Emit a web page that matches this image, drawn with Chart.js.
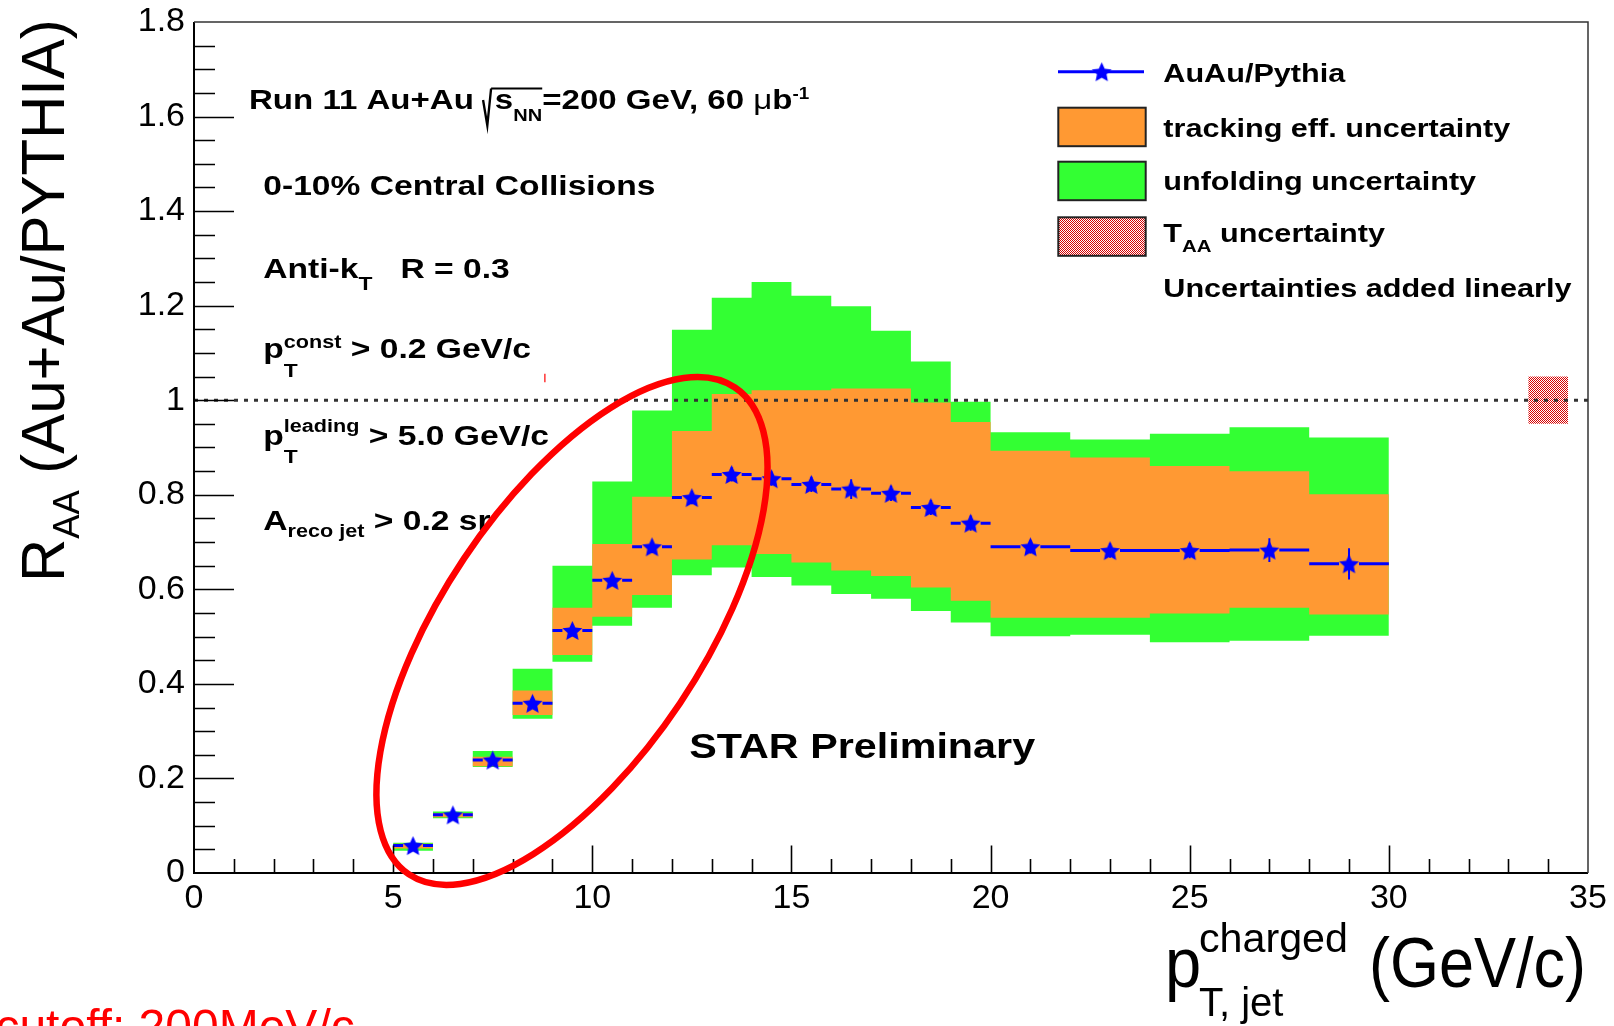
<!DOCTYPE html>
<html>
<head>
<meta charset="utf-8">
<script src="https://cdn.jsdelivr.net/npm/chart.js@4/dist/chart.umd.min.js"></script>
<style>
  html, body { margin: 0; padding: 0; background: #fff; overflow: hidden; }
  canvas { display: block; }
</style>
</head>
<body>
<canvas id="raa" width="1614" height="1026"></canvas>
<script>
// ---- data: jet R_AA, Au+Au / PYTHIA, 0-10% central ----
const binEdges  = [5, 6, 7, 8, 9, 10, 11, 12, 13, 14, 15, 16, 17, 18, 19, 20, 22, 24, 26, 28, 30];
const raa       = [0.058, 0.123, 0.239, 0.359, 0.513, 0.619, 0.690, 0.794, 0.843, 0.834, 0.822, 0.812, 0.803, 0.773, 0.740, 0.690, 0.682, 0.682, 0.683, 0.654];
const statErr   = [0.004, 0.006, 0.008, 0.010, 0.012, 0.012, 0.013, 0.014, 0.015, 0.015, 0.016, 0.021, 0.016, 0.016, 0.016, 0.014, 0.015, 0.016, 0.025, 0.033];
const trackLo   = [0.052, 0.118, 0.226, 0.334, 0.461, 0.542, 0.588, 0.663, 0.693, 0.675, 0.657, 0.640, 0.628, 0.604, 0.576, 0.540, 0.540, 0.549, 0.561, 0.547];
const trackHi   = [0.062, 0.127, 0.246, 0.386, 0.561, 0.696, 0.796, 0.935, 1.013, 1.021, 1.021, 1.025, 1.025, 0.995, 0.954, 0.893, 0.879, 0.861, 0.850, 0.801];
const unfoldLo  = [0.047, 0.116, 0.224, 0.326, 0.447, 0.523, 0.561, 0.630, 0.646, 0.626, 0.608, 0.590, 0.580, 0.554, 0.530, 0.501, 0.504, 0.488, 0.491, 0.502];
const unfoldHi  = [0.064, 0.130, 0.258, 0.432, 0.650, 0.828, 0.978, 1.149, 1.217, 1.250, 1.221, 1.199, 1.147, 1.082, 0.997, 0.932, 0.917, 0.929, 0.943, 0.921];
const taaEdges  = [33.5, 34.5];
const taaBand   = [0.95, 1.05];
const unityLine = [1, 1];
const xTickLabels = ['0', '5', '10', '15', '20', '25', '30', '35'];
const yTickLabels = ['0', '0.2', '0.4', '0.6', '0.8', '1', '1.2', '1.4', '1.6', '1.8'];

// ---- styles ----
const FONT = "'Liberation Sans', Arial, Helvetica, sans-serif";
const GREEN = '#33ff33', ORANGE = '#ff9933', BLUE = '#0000ff';
const MARKER_GAP = 0.25;            // half-gap of the x bar around each marker (GeV/c)
const ELLIPSE = { x: 9.49, y: 0.512, a: 293, b: 130, rot: -56.2 };

// filled five-point star used as the marker
function makeStar(r, ri, color) {
  const s = Math.ceil(2 * r + 2);
  const cv = document.createElement('canvas');
  cv.width = cv.height = s;
  const g = cv.getContext('2d');
  g.fillStyle = color;
  g.beginPath();
  for (let k = 0; k < 10; k++) {
    const ang = -Math.PI / 2 + k * Math.PI / 5;
    const rr = k % 2 ? ri : r;
    g.lineTo(s / 2 + rr * Math.cos(ang), s / 2 + rr * Math.sin(ang) + 1);
  }
  g.closePath();
  g.fill();
  return cv;
}
const star = makeStar(10.5, 5, BLUE);

// fine red dither for the T_AA box
function makeDither() {
  const p = document.createElement('canvas');
  p.width = p.height = 2;
  const g = p.getContext('2d');
  g.fillStyle = '#ffffff'; g.fillRect(0, 0, 2, 2);
  g.fillStyle = '#d80000'; g.fillRect(0, 0, 1, 1); g.fillRect(1, 1, 1, 1);
  return document.getElementById('raa').getContext('2d').createPattern(p, 'repeat');
}
const dither = makeDither();

// helpers that turn the arrays into chart points
const centers = raa.map((_, i) => (binEdges[i] + binEdges[i + 1]) / 2);
function stepPoints(vals, edges) {
  const pts = vals.map((v, i) => ({ x: edges[i], y: v }));
  pts.push({ x: edges[edges.length - 1], y: vals[vals.length - 1] });
  return pts;
}
const xBars = [];
raa.forEach((v, i) => {
  const lo = binEdges[i], hi = binEdges[i + 1], c = centers[i];
  xBars.push({ x: lo, y: v }, { x: c - MARKER_GAP, y: v }, { x: c, y: null },
             { x: c + MARKER_GAP, y: v }, { x: hi, y: v }, { x: hi, y: null });
});
const yBars = [];
raa.forEach((v, i) => {
  yBars.push({ x: centers[i], y: v - statErr[i] }, { x: centers[i], y: v + statErr[i] }, { x: centers[i], y: null });
});

// histogram-style band edge: each value holds from its bin's low edge to the next edge
const band = (data, extra) => Object.assign({
  data, stepped: 'before', borderWidth: 0, borderColor: 'transparent',
  pointRadius: 0, fill: false, tension: 0
}, extra);

// ---- rich text: sub/superscripts, horizontal scale ----
function drawRich(ctx, x, y, segs, opt) {
  ctx.save();
  ctx.translate(x, y);
  if (opt.rotate) ctx.rotate(opt.rotate);
  ctx.scale(opt.sx || 1, 1);
  ctx.fillStyle = opt.color || '#000';
  ctx.strokeStyle = opt.color || '#000';
  ctx.textAlign = 'left';
  ctx.textBaseline = 'alphabetic';
  const font = s => `${s.weight || opt.weight || 'bold'} ${s.size || opt.size}px ${FONT}`;
  let cx = 0, sqrtFrom = null;
  for (const sg of segs) {
    if (sg.gap) { cx += sg.gap; continue; }
    if (sg.sqrt) {
      ctx.lineWidth = 2;
      ctx.beginPath();
      ctx.moveTo(cx, -8.5); ctx.lineTo(cx + 3.6, 17); ctx.lineTo(cx + 6.8, -20);
      ctx.stroke();
      sqrtFrom = cx + 6.8; cx += sg.sqrt; continue;
    }
    if (sg.sqrtEnd) {
      ctx.lineWidth = 2;
      ctx.beginPath(); ctx.moveTo(sqrtFrom, -20); ctx.lineTo(cx, -20); ctx.stroke();
      continue;
    }
    if (sg.pair) {
      let w = 0;
      for (const p of sg.pair) {
        ctx.font = font(p);
        ctx.fillText(p.t, cx, p.dy || 0);
        w = Math.max(w, ctx.measureText(p.t).width);
      }
      cx += w; continue;
    }
    ctx.font = font(sg);
    ctx.fillText(sg.t, cx, sg.dy || 0);
    cx += ctx.measureText(sg.t).width;
  }
  ctx.restore();
}

// ---- frame, inner ticks, labels, legend, annotations ----
const decorations = {
  id: 'decorations',
  afterDatasetsDraw(chart) {
    const { ctx, chartArea: a, scales: { x, y } } = chart;
    ctx.save();
    ctx.strokeStyle = '#000';
    ctx.lineWidth = 1.6;
    ctx.beginPath();
    for (let v = 0.05; v < 1.8 - 1e-6; v += 0.05) {
      const major = Math.abs(v / 0.2 - Math.round(v / 0.2)) < 1e-6;
      const py = Math.round(y.getPixelForValue(v)) + 0.5;
      ctx.moveTo(a.left, py); ctx.lineTo(a.left + (major ? 40 : 21), py);
    }
    for (let v = 1; v < 35; v += 1) {
      const px = Math.round(x.getPixelForValue(v)) + 0.5;
      ctx.moveTo(px, a.bottom); ctx.lineTo(px, a.bottom - (v % 5 === 0 ? 27.5 : 14));
    }
    ctx.stroke();
    // frame
    ctx.lineWidth = 2;
    ctx.beginPath();
    ctx.moveTo(a.left, a.top); ctx.lineTo(a.left, a.bottom); ctx.lineTo(a.right, a.bottom);
    ctx.stroke();
    ctx.strokeStyle = '#333';
    ctx.lineWidth = 1.5;
    ctx.beginPath();
    ctx.moveTo(a.left, a.top); ctx.lineTo(a.right, a.top); ctx.lineTo(a.right, a.bottom);
    ctx.stroke();
    ctx.restore();
  },
  afterDraw(chart) {
    const { ctx, scales: { x, y } } = chart;
    const SX = 1.2;
    // run information
    drawRich(ctx, 249, 108.5, [
      { t: 'Run 11 Au+Au ' }, { sqrt: 10 }, { t: 's' }, { t: 'NN', size: 17, dy: 12 }, { sqrtEnd: true },
      { t: '=200 GeV, 60 ' }, { t: 'μ', weight: 'normal' }, { t: 'b' }, { t: '-1', size: 16, dy: -10 }
    ], { size: 28, sx: 1.18 });
    drawRich(ctx, 263.3, 195, [{ t: '0-10% Central Collisions' }], { size: 28, sx: SX });
    drawRich(ctx, 263.3, 277.7, [{ t: 'Anti-k' }, { t: 'T', size: 19, dy: 12 }, { t: '   R = 0.3' }], { size: 28, sx: SX });
    drawRich(ctx, 263.3, 358.3, [{ t: 'p' }, { pair: [{ t: 'const', size: 18, dy: -10 }, { t: 'T', size: 19, dy: 18.4 }] },
      { t: ' > 0.2 GeV/c' }], { size: 28, sx: SX });
    drawRich(ctx, 263.3, 445, [{ t: 'p' }, { pair: [{ t: 'leading', size: 18, dy: -13 }, { t: 'T', size: 19, dy: 18 }] },
      { t: ' > 5.0 GeV/c' }], { size: 28, sx: SX });
    drawRich(ctx, 263.3, 530, [{ t: 'A' }, { t: 'reco jet', size: 18, dy: 7 }, { t: ' > 0.2 sr' }], { size: 28, sx: SX });
    drawRich(ctx, 689.3, 758.3, [{ t: 'STAR Preliminary' }], { size: 35, sx: 1.18 });

    // legend
    ctx.save();
    ctx.strokeStyle = BLUE; ctx.lineWidth = 3;
    ctx.beginPath(); ctx.moveTo(1058, 71.7); ctx.lineTo(1144, 71.7); ctx.stroke();
    ctx.drawImage(star, 1101.7 - star.width / 2, 71.7 - star.height / 2);
    const boxes = [[107.7, ORANGE], [161.7, GREEN], [217.3, dither]];
    for (const [top, fill] of boxes) {
      ctx.fillStyle = fill;
      ctx.fillRect(1058.3, top, 87.4, 38.5);
      ctx.strokeStyle = '#222'; ctx.lineWidth = 2;
      ctx.strokeRect(1058.3, top, 87.4, 38.5);
    }
    ctx.restore();
    const LS = { size: 25.5, sx: SX };
    drawRich(ctx, 1163.3, 81.7, [{ t: 'AuAu/Pythia' }], LS);
    drawRich(ctx, 1163.3, 136.7, [{ t: 'tracking eff. uncertainty' }], LS);
    drawRich(ctx, 1163.3, 190, [{ t: 'unfolding uncertainty' }], LS);
    drawRich(ctx, 1163.3, 241.7, [{ t: 'T' }, { t: 'AA', size: 17, dy: 10 }, { t: ' uncertainty' }], LS);
    drawRich(ctx, 1163.3, 296.7, [{ t: 'Uncertainties added linearly' }], LS);

    // axis titles
    const XT = { size: 70, sx: 0.93, weight: 'normal' };
    drawRich(ctx, 1165, 986.7, [{ t: 'p' }], XT);
    drawRich(ctx, 1199, 952, [{ t: 'charged' }], { size: 40, sx: 1.03, weight: 'normal' });
    drawRich(ctx, 1199, 1016, [{ t: 'T, jet' }], { size: 40, sx: 1.0, weight: 'normal' });
    drawRich(ctx, 1369, 986.7, [{ t: '(GeV/c)' }], { size: 70, sx: 0.9, weight: 'normal' });
    drawRich(ctx, 64, 582, [{ t: 'R' }, { t: 'AA', size: 37, dy: 15 }, { t: ' (Au+Au/PYTHIA)' }],
      { size: 61, sx: 0.982, weight: 'normal', rotate: -Math.PI / 2 });

    // hand-drawn annotations
    ctx.save();
    ctx.strokeStyle = '#ff0000';
    ctx.lineWidth = 6.5;
    ctx.beginPath();
    ctx.ellipse(x.getPixelForValue(ELLIPSE.x), y.getPixelForValue(ELLIPSE.y), ELLIPSE.a, ELLIPSE.b,
                ELLIPSE.rot * Math.PI / 180, 0, 2 * Math.PI);
    ctx.stroke();
    ctx.lineWidth = 1.2;
    ctx.beginPath();
    ctx.moveTo(x.getPixelForValue(8.81), y.getPixelForValue(1.056));
    ctx.lineTo(x.getPixelForValue(8.81), y.getPixelForValue(1.038));
    ctx.stroke();
    ctx.fillStyle = '#ff0000';
    ctx.font = `48px ${FONT}`;
    ctx.textBaseline = 'alphabetic';
    ctx.fillText('cutoff: 200MeV/c', -4.6, 1043);
    ctx.restore();
  }
};

Chart.defaults.font.family = FONT;
Chart.defaults.color = '#000';

new Chart(document.getElementById('raa'), {
  type: 'line',
  data: {
    datasets: [
      band(stepPoints(unfoldLo, binEdges), { label: 'unfolding lo', order: 6 }),
      band(stepPoints(unfoldHi, binEdges), { label: 'unfolding uncertainty', order: 6, fill: '-1', backgroundColor: GREEN }),
      band(stepPoints(trackLo, binEdges), { label: 'tracking lo', order: 5 }),
      band(stepPoints(trackHi, binEdges), { label: 'tracking eff. uncertainty', order: 5, fill: '-1', backgroundColor: ORANGE }),
      band(stepPoints([taaBand[0]], taaEdges), { label: 'T_AA lo', order: 5 }),
      band(stepPoints([taaBand[1]], taaEdges), { label: 'T_AA uncertainty', order: 5, fill: '-1', backgroundColor: dither }),
      { label: 'unity', data: [{ x: 0, y: unityLine[0] }, { x: 35, y: unityLine[1] }], borderColor: '#333',
        borderWidth: 3, borderDash: [4, 6], pointRadius: 0, fill: false, order: 4 },
      { label: 'bin width', data: xBars, borderColor: BLUE, borderWidth: 3, pointRadius: 0,
        fill: false, spanGaps: false, order: 3 },
      { label: 'stat. error', data: yBars, borderColor: BLUE, borderWidth: 2, pointRadius: 0,
        fill: false, spanGaps: false, order: 3 },
      { label: 'AuAu/Pythia', data: raa.map((v, i) => ({ x: centers[i], y: v })), showLine: false,
        pointStyle: star, pointRadius: 9, order: 2 }
    ]
  },
  options: {
    responsive: false,
    animation: false,
    devicePixelRatio: 1,
    layout: { padding: { top: 22, right: 26, left: 0, bottom: 0 } },
    plugins: { legend: { display: false }, tooltip: { enabled: false } },
    scales: {
      x: {
        type: 'linear', min: 0, max: 35,
        afterFit: s => { s.height = 153; },
        grid: { display: false, drawTicks: false },
        border: { display: false },
        ticks: { stepSize: 5, padding: 5, maxRotation: 0, autoSkip: false,
                 font: { size: 34 }, callback: (v, i) => xTickLabels[i] }
      },
      y: {
        type: 'linear', min: 0, max: 1.8,
        afterFit: s => { s.width = 194; },
        grid: { display: false, drawTicks: false },
        border: { display: false },
        ticks: { stepSize: 0.2, padding: 9, autoSkip: false,
                 font: { size: 34, lineHeight: 0.7 }, callback: (v, i) => yTickLabels[i] }
      }
    }
  },
  plugins: [decorations]
});
</script>
</body>
</html>
